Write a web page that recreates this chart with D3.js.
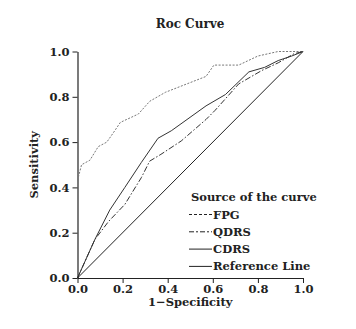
<!DOCTYPE html>
<html>
<head>
<meta charset="utf-8">
<script src="https://cdn.jsdelivr.net/npm/d3@7"></script>
<style>
  body { margin: 0; background: #fff; }
  svg text { font-family: "DejaVu Serif", "Liberation Serif", serif; font-weight: bold; fill: #222; }
  .axis path, .axis line { stroke: #222; }
</style>
</head>
<body>
<div id="chart"></div>
<script>
const xTicks = [0, 0.2, 0.4, 0.6, 0.8, 1.0];
const yTicks = [0, 0.2, 0.4, 0.6, 0.8, 1.0];

// [1-specificity, sensitivity]
const fpg = [[0,0.43],[0.018,0.50],[0.055,0.52],[0.092,0.58],[0.13,0.60],[0.165,0.65],
  [0.19,0.687],[0.27,0.724],[0.32,0.78],[0.39,0.82],[0.57,0.89],[0.605,0.94],[0.715,0.94],
  [0.80,0.98],[0.89,1.0],[1,1]];
const qdrs = [[0,0],[0.077,0.17],[0.138,0.25],[0.21,0.325],[0.283,0.443],[0.32,0.516],
  [0.37,0.546],[0.46,0.605],[0.57,0.70],[0.61,0.74],[0.715,0.857],[0.817,0.916],
  [0.89,0.95],[0.96,0.99],[1,1]];
const cdrs = [[0,0],[0.077,0.17],[0.143,0.30],[0.21,0.40],[0.283,0.51],[0.357,0.617],
  [0.416,0.65],[0.57,0.76],[0.656,0.81],[0.76,0.91],[0.83,0.93],[0.89,0.96],[0.95,0.98],[1,1]];
const refLine = [[0,0],[1,1]];

const series = [
  {name: "FPG", data: fpg, color: "#777", dash: "2,1.5", legendDash: "3,2"},
  {name: "QDRS", data: qdrs, color: "#333", dash: "6,2,1.5,2", legendDash: "5,2,2,2"},
  {name: "CDRS", data: cdrs, color: "#333", dash: null, legendDash: null},
  {name: "Reference Line", data: refLine, color: "#222", dash: null, legendDash: null}
];

const svg = d3.select("#chart").append("svg").attr("width", 356).attr("height", 329);
const margin = {top: 51.5, left: 77.5},
      width = 225.5, height = 226.5;

const x = d3.scaleLinear().domain([0, 1]).range([0, width]);
const y = d3.scaleLinear().domain([0, 1]).range([height, 0]);

const g = svg.append("g").attr("transform", "translate(" + margin.left + "," + margin.top + ")");

g.append("g")
  .attr("class", "axis")
  .attr("transform", "translate(0," + height + ")")
  .call(d3.axisBottom(x).tickValues(xTicks).tickFormat(d3.format(".1f")).tickSize(5).tickSizeOuter(0).tickPadding(2))
  .selectAll("text").style("font-size", "11.5px");

g.append("g")
  .attr("class", "axis")
  .call(d3.axisLeft(y).tickValues(yTicks).tickFormat(d3.format(".1f")).tickSize(5).tickSizeOuter(0).tickPadding(3))
  .selectAll("text").style("font-size", "11.5px");

g.selectAll(".domain").attr("stroke-width", 1.2);

const line = d3.line().x(d => x(d[0])).y(d => y(d[1]));

series.forEach(s => {
  g.append("path")
    .datum(s.data)
    .attr("fill", "none")
    .attr("stroke", s.color)
    .attr("stroke-width", 1)
    .attr("stroke-dasharray", s.dash)
    .attr("d", line);
});

// title and axis labels
svg.append("text").attr("x", 190).attr("y", 28).attr("text-anchor", "middle")
  .style("font-size", "12px").text("Roc Curve");
svg.append("text").attr("x", margin.left + width / 2).attr("y", 306).attr("text-anchor", "middle")
  .style("font-size", "11.5px").text("1\u2212Specificity");
svg.append("text").attr("transform", "translate(38," + (margin.top + height / 2) + ") rotate(-90)")
  .attr("text-anchor", "middle").style("font-size", "11.5px").text("Sensitivity");

// legend
const legend = svg.append("g").attr("transform", "translate(189,201)");
legend.append("text").attr("x", 2).attr("y", 0).style("font-size", "11.5px").text("Source of the curve");
series.forEach((s, i) => {
  const ly = 17.5 + i * 17.3;
  legend.append("line")
    .attr("x1", 0).attr("x2", 23).attr("y1", ly - 4).attr("y2", ly - 4)
    .attr("stroke", "#222").attr("stroke-width", 1)
    .attr("stroke-dasharray", s.legendDash);
  legend.append("text").attr("x", 24).attr("y", ly).style("font-size", "11.5px").text(s.name);
});
</script>
</body>
</html>
